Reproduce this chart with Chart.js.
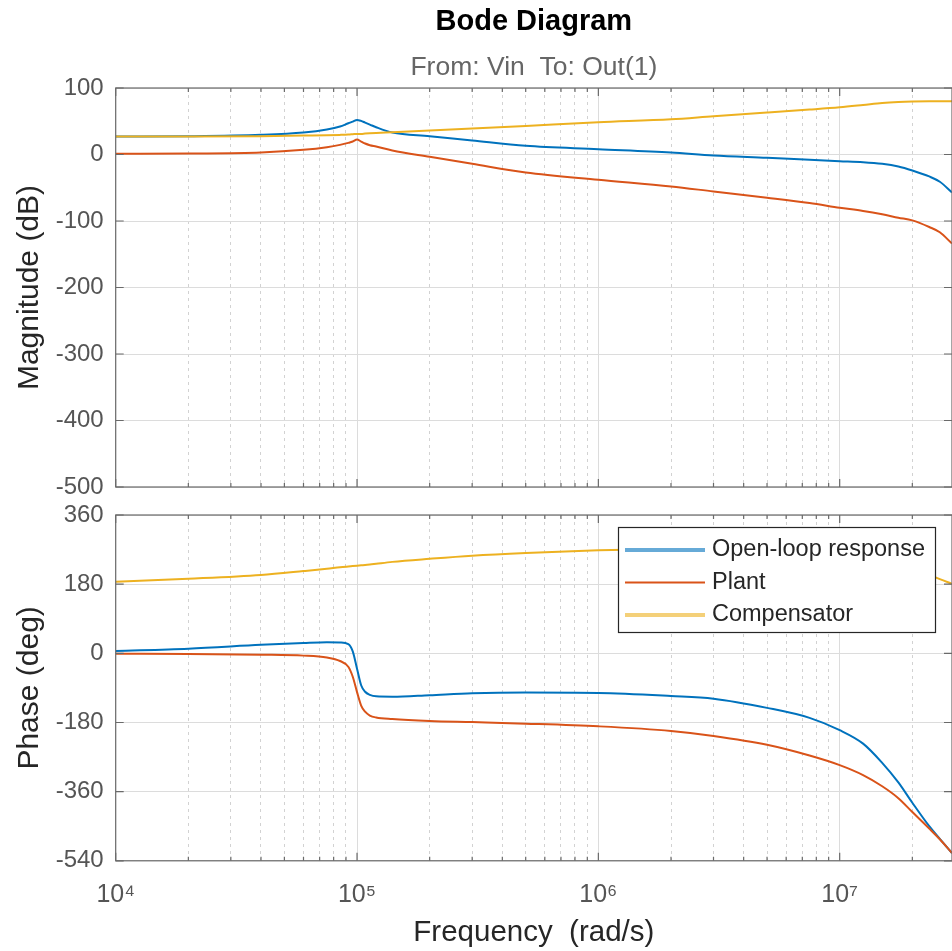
<!DOCTYPE html>
<html><head><meta charset="utf-8">
<script src="https://cdn.jsdelivr.net/npm/chart.js@4.4.1/dist/chart.umd.min.js"></script>
<style>
html,body{margin:0;padding:0;background:#fff;overflow:hidden;}
#wrap{position:relative;width:952px;height:951px;}
canvas{position:absolute;left:0;}
#c1{top:0}
#c2{top:500px}
</style></head><body>
<div id="wrap"><canvas id="c1" width="952" height="500"></canvas><canvas id="c2" width="952" height="451"></canvas></div>
<script>
// ---- data ----
const freq = [1e4, 2e4, 4e4, 6e4, 7.5e4, 8.5e4, 9.2e4, 9.6e4, 1e5, 1.04e5, 1.08e5, 1.13e5, 1.2e5, 1.4e5, 2e5, 3e5, 5e5, 1e6, 2e6, 3e6, 5e6, 7.5e6, 1e7, 1.25e7, 1.5e7, 1.75e7, 2e7, 2.35e7, 2.6e7, 2.92e7];
const magOpen  = [27, 27.5, 29.6, 33, 37.5, 42, 47, 49.5, 52, 50.5, 48, 45, 41, 33, 27.5, 21, 13, 8, 3, -1.5, -5, -8, -10, -11.5, -14, -18, -24, -33, -41, -57];
const magPlant = [1, 1.5, 3, 7, 11, 14.5, 17.5, 19.5, 22.5, 19.5, 16.5, 14, 12, 6, -3.5, -14, -27, -38, -48, -55.6, -65, -73, -80, -85, -90, -95, -99, -109, -117, -134];
const magComp  = [27, 27, 27.5, 28.5, 29, 29.5, 30, 30.5, 31, 31, 31.5, 32, 32.5, 33.5, 36, 39, 43, 48.6, 53, 57.6, 63, 67.5, 71, 74.5, 77.5, 79, 79.7, 80, 80, 80];
const phaseOpen  = [6, 12, 22, 27, 29, 28, 24, 5, -40, -83, -100, -108, -112, -113, -109, -104, -102, -103, -111, -118, -142, -168, -200, -235, -285, -336, -389, -450, -483, -520];
const phasePlant = [-1, -1.5, -3.5, -6, -11, -20, -35, -61, -101, -136, -152, -162, -167, -171, -176, -179, -183, -190, -202, -215, -238, -266, -291, -317, -346, -377, -413, -456, -484, -520];
const phaseComp  = [186, 194, 204, 214, 220, 224, 226, 227, 228, 229, 230, 231, 233, 238, 246, 254, 261, 268, 272, 274, 276, 275, 271, 264, 254, 240, 226, 205, 193, 181];
const seriesNames = ['Open-loop response', 'Plant', 'Compensator'];
const xMajor = [1e4, 1e5, 1e6, 1e7];
const xTickLabels = ['10\u2074', '10\u2075', '10\u2076', '10\u2077'];
const xMinorMult = [2, 3, 4, 5, 6, 7, 8, 9];
const xMin = 1e4, xMax = 2.92e7;
const magTicks = [100, 0, -100, -200, -300, -400, -500];
const phaseTicks = [360, 180, 0, -180, -360, -540];

// ---- styling ----
const COLORS = ['#0072BD', '#D95319', '#EDB120'];
const FONT = '"Liberation Sans", Arial, Helvetica, sans-serif';
Chart.defaults.font.family = FONT;
const TICK_COLOR = '#555555';
const LABEL_COLOR = '#262626';

function pts(vals) { return freq.map((f, i) => ({x: f, y: vals[i]})); }
function makeDatasets(a, b, c) {
  return [a, b, c].map((v, i) => ({
    label: seriesNames[i], data: pts(v), borderColor: COLORS[i], backgroundColor: COLORS[i],
    borderWidth: 2, pointRadius: 0, fill: false, cubicInterpolationMode: 'monotone',
    order: 3 - i
  }));
}
function buildXTicks(scale) {
  const t = [];
  xMajor.forEach(d => {
    if (d >= xMin && d <= xMax) t.push({value: d, major: true});
    xMinorMult.forEach(m => { const v = d * m; if (v >= xMin && v <= xMax) t.push({value: v, major: false}); });
  });
  t.sort((p, q) => p.value - q.value);
  scale.ticks = t;
}
function buildYTicks(list) { return scale => { scale.ticks = list.slice().sort((a,b)=>a-b).map(v => ({value: v})); }; }

const gridDash = c => (c.tick && c.tick.major === false) ? [3, 4] : [];
const gridColor = c => (c.tick && c.tick.major === false) ? '#d2d2d2' : '#dcdcdc';

const framePlugin = {
  id: 'frame',
  afterDatasetsDraw(chart) {
    const {ctx, chartArea: a, scales} = chart;
    ctx.save();
    ctx.strokeStyle = '#6a6a6a';
    ctx.lineWidth = 1.2;
    ctx.beginPath();
    scales.x.ticks.forEach(t => {
      const px = scales.x.getPixelForValue(t.value);
      const len = t.major ? 8 : 4;
      ctx.moveTo(px, a.top); ctx.lineTo(px, a.top + len);
      ctx.moveTo(px, a.bottom); ctx.lineTo(px, a.bottom - len);
    });
    scales.y.ticks.forEach(t => {
      const py = scales.y.getPixelForValue(t.value);
      ctx.moveTo(a.left, py); ctx.lineTo(a.left + 8, py);
      ctx.moveTo(a.right, py); ctx.lineTo(a.right - 8, py);
    });
    ctx.stroke();
    ctx.strokeRect(a.left, a.top, a.right - a.left, a.bottom - a.top);
    ctx.restore();
  }
};

const legendPlugin = {
  id: 'bodeLegend',
  afterDraw(chart) {
    const {ctx} = chart;
    const x0 = 618, y0 = 27, w = 317, h = 105;
    ctx.save();
    ctx.fillStyle = '#ffffff';
    ctx.fillRect(x0, y0, w, h);
    ctx.strokeStyle = '#262626';
    ctx.lineWidth = 1.2;
    ctx.strokeRect(x0 + 0.5, y0 + 0.5, w, h);
    ctx.font = '23.5px ' + FONT;
    ctx.textBaseline = 'middle';
    ctx.textAlign = 'left';
    chart.data.datasets.forEach((ds, i) => {
      const y = y0 + 23 + i * 32.5;
      ctx.strokeStyle = ds.borderColor;
      ctx.globalAlpha = i === 1 ? 1 : 0.6;
      ctx.lineWidth = i === 1 ? 2 : 4;
      ctx.beginPath(); ctx.moveTo(x0 + 7, y); ctx.lineTo(x0 + 87, y); ctx.stroke();
      ctx.globalAlpha = 1;
      ctx.fillStyle = LABEL_COLOR;
      ctx.fillText(ds.label, x0 + 94, y);
    });
    ctx.restore();
  }
};

function xScale(showLabels, height) {
  return {
    type: 'logarithmic', min: xMin, max: xMax,
    afterBuildTicks: buildXTicks,
    afterFit: s => { s.height = height; },
    border: {display: false, dash: gridDash},
    grid: {color: gridColor, lineWidth: 1, drawTicks: false},
    ticks: {
      display: showLabels, autoSkip: false, maxRotation: 0, padding: 19,
      color: TICK_COLOR, font: {size: 25},
      callback: (v, i, ticks) => { const k = xMajor.indexOf(v); return ticks[i].major && k >= 0 ? xTickLabels[k] : ''; }
    },
    title: {display: showLabels, text: 'Frequency  (rad/s)', color: LABEL_COLOR, font: {size: 29.5}, padding: {top: 0, bottom: 0}}
  };
}
function yScale(list, title) {
  return {
    min: Math.min(...list), max: Math.max(...list),
    afterBuildTicks: buildYTicks(list),
    afterFit: s => { s.width = 115.7; },
    border: {display: false},
    grid: {color: '#dcdcdc', lineWidth: 1, drawTicks: true, tickLength: 12, tickColor: 'rgba(0,0,0,0)'},
    ticks: {color: TICK_COLOR, font: {size: 24, lineHeight: 1}, padding: 0, callback: v => String(v)},
    title: {display: true, text: title, color: LABEL_COLOR, font: {size: 30}, padding: {top: 12, bottom: 0}}
  };
}

new Chart(document.getElementById('c1'), {
  type: 'line',
  data: {datasets: makeDatasets(magOpen, magPlant, magComp)},
  options: {
    responsive: false, animation: false,
    layout: {padding: 0},
    plugins: {
      legend: {display: false}, tooltip: {enabled: false},
      title: {display: true, text: 'Bode Diagram', fullSize: false, color: '#000', font: {size: 29, weight: 'bold'}, padding: {top: 5, bottom: 0}},
      subtitle: {display: true, text: 'From: Vin  To: Out(1)', fullSize: false, color: '#666666', font: {size: 26.5}, padding: {top: 12, bottom: 4.4}}
    },
    scales: {x: xScale(false, 13), y: yScale(magTicks, 'Magnitude (dB)')}
  },
  plugins: [framePlugin]
});

new Chart(document.getElementById('c2'), {
  type: 'line',
  data: {datasets: makeDatasets(phaseOpen, phasePlant, phaseComp)},
  options: {
    responsive: false, animation: false,
    layout: {padding: {top: 15, left: 0, right: 0, bottom: 0}},
    plugins: {legend: {display: false}, tooltip: {enabled: false}},
    scales: {x: xScale(true, 90.2), y: yScale(phaseTicks, 'Phase (deg)')}
  },
  plugins: [framePlugin, legendPlugin]
});
</script>
</body></html>
